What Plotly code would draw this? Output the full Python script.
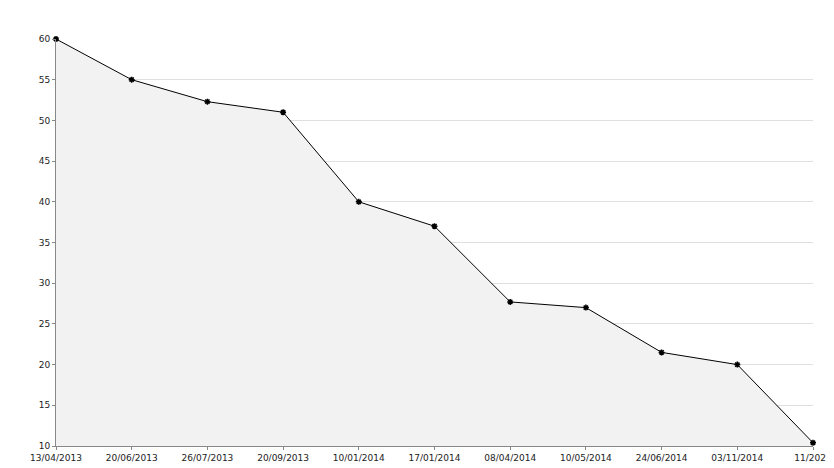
import plotly.graph_objects as go

labels = ["13/04/2013","20/06/2013","26/07/2013","20/09/2013","10/01/2014","17/01/2014",
          "08/04/2014","10/05/2014","24/06/2014","03/11/2014","11/2025"]
values = [60, 55, 52.3, 51, 40, 37, 27.7, 27, 21.5, 20, 10.4]
xs = list(range(len(labels)))

fig = go.Figure(go.Scatter(
    x=xs, y=values, mode="lines+markers", fill="tozeroy",
    fillcolor="#f2f2f2", line=dict(color="black", width=1),
    marker=dict(symbol="asterisk", size=5, color="black", line=dict(color="black", width=1.5)),
    cliponaxis=False))
fig.update_layout(
    width=834, height=468, margin=dict(l=48, r=29, t=31, b=30, autoexpand=False),
    plot_bgcolor="white", paper_bgcolor="white", showlegend=False,
    font=dict(family="DejaVu Sans", size=9, color="#222"))
fig.update_xaxes(range=[0, 10], tickvals=xs, ticktext=labels, showgrid=False, automargin=False,
                 showline=True, linecolor="#888", ticks="outside", ticklen=3, tickcolor="#888")
fig.update_yaxes(range=[10, 60], dtick=5, showgrid=True, gridcolor="#e0e0e0", automargin=False,
                 showline=True, linecolor="#888", ticks="outside", ticklen=3, tickcolor="#888",
                 zeroline=False)
fig.write_html("out.html")
